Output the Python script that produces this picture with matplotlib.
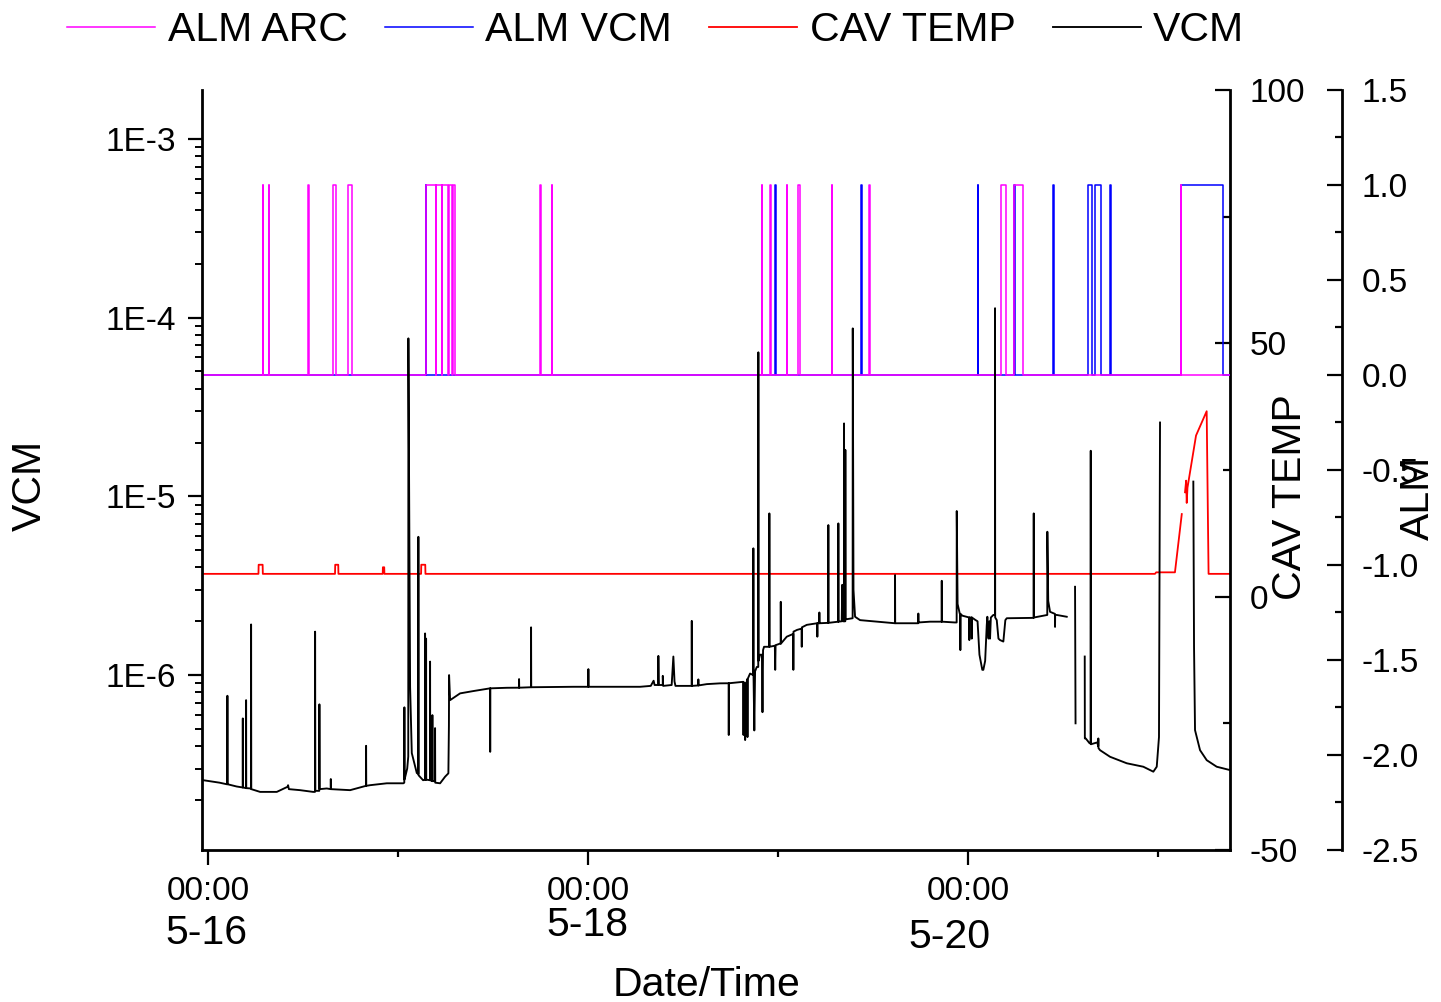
import numpy as np
import matplotlib
matplotlib.use("Agg")
import matplotlib.pyplot as plt
from matplotlib import font_manager
from matplotlib.ticker import LogLocator, FuncFormatter, MultipleLocator, NullFormatter

# the reference uses a narrow face; fall back to regular Liberation Sans at a
# smaller size so the text keeps roughly the same width
installed = {f.name for f in font_manager.fontManager.ttflist}
HAS_NARROW = "Liberation Sans Narrow" in installed
NARROW = "Liberation Sans Narrow" if HAS_NARROW else "Liberation Sans"
BIG = 35 if HAS_NARROW else 29.5
MID = 28 if HAS_NARROW else 24

plt.rcParams["font.family"] = ["Liberation Sans", "DejaVu Sans"]
plt.rcParams["axes.unicode_minus"] = False

# time axis: days since 5-16 00:00
x_range = (-0.032, 5.379)
day_ticks = [0, 2, 4]
day_minor = [1, 3, 5]
time_labels = ["00:00", "00:00", "00:00"]
date_labels = ["5-16", "5-18", "5-20"]

# VCM pressure trace (day, value); None marks a gap in the logged data
vcm_points = [
    (-0.025, 2.58e-7), (0.06, 2.5e-7), (0.098, 2.45e-7),
    (0.1010, 2.45e-7), (0.1016, 7.66e-7), (0.1024, 2.45e-7),
    (0.15, 2.38e-7),
    (0.182, 2.35e-7), (0.1826, 5.72e-7), (0.1834, 2.35e-7),
    (0.1995, 2.33e-7), (0.2, 7.24e-7), (0.2008, 2.33e-7),
    (0.221, 2.32e-7),
    (0.2258, 2.32e-7), (0.2263, 1.92e-6), (0.2272, 2.3e-7),
    (0.2737, 2.22e-7), (0.3616, 2.22e-7),
    (0.418, 2.37e-7), (0.421, 2.42e-7), (0.425, 2.3e-7),
    (0.4842, 2.27e-7), (0.5526, 2.22e-7),
    (0.5626, 2.22e-7), (0.5632, 1.75e-6), (0.5645, 2.25e-7),
    (0.5852, 2.25e-7), (0.5858, 6.86e-7), (0.587, 2.3e-7),
    (0.6247, 2.32e-7),
    (0.6452, 2.3e-7), (0.6458, 2.62e-7), (0.6465, 2.3e-7),
    (0.7474, 2.27e-7),
    (0.831, 2.4e-7), (0.8316, 4.02e-7), (0.8324, 2.4e-7),
    (0.8526, 2.42e-7), (0.9405, 2.48e-7), (1.0279, 2.48e-7),
    (1.0326, 2.5e-7), (1.0332, 6.6e-7), (1.034, 2.6e-7),
    (1.048, 3.0e-7),
    (1.0535, 3.5e-7), (1.0542, 7.66e-5), (1.0632, 8.6e-7), (1.0721, 3.66e-7), (1.0984, 2.83e-7),
    (1.1063, 2.8e-7), (1.1068, 5.94e-6), (1.1078, 2.75e-7),
    (1.1316, 2.58e-7),
    (1.1415, 2.6e-7), (1.1421, 1.71e-6), (1.143, 2.6e-7),
    (1.147, 2.6e-7), (1.1474, 1.6e-6), (1.1482, 2.6e-7),
    (1.168, 2.58e-7), (1.1684, 1.19e-6), (1.1692, 2.58e-7),
    (1.18, 2.55e-7), (1.1805, 5.97e-7), (1.1812, 2.55e-7),
    (1.1942, 2.55e-7), (1.1947, 5.05e-7), (1.1955, 2.5e-7),
    (1.2211, 2.48e-7), (1.2474, 2.7e-7), (1.2647, 2.82e-7),
    (1.2675, 5.2e-7), (1.2684, 1.0e-6), (1.2737, 7.24e-7),
    (1.3263, 7.9e-7), (1.3963, 8.14e-7),
    (1.4842, 8.43e-7), (1.4848, 3.72e-7), (1.4855, 8.43e-7),
    (1.5721, 8.49e-7),
    (1.6363, 8.5e-7), (1.6368, 9.5e-7), (1.6375, 8.5e-7),
    (1.6774, 8.53e-7),
    (1.6995, 8.55e-7), (1.7, 1.85e-6), (1.7008, 8.55e-7),
    (1.9226, 8.6e-7),
    (2.001, 8.6e-7), (2.0016, 1.08e-6), (2.0024, 8.6e-7),
    (2.2737, 8.6e-7),
    (2.33, 8.7e-7), (2.345, 9.3e-7), (2.35, 8.8e-7), (2.368, 8.8e-7), (2.37, 1.28e-6),
    (2.373, 8.8e-7), (2.393, 8.8e-7), (2.3932, 9.9e-7), (2.395, 8.7e-7), (2.44, 8.8e-7),
    (2.4489, 1.27e-6), (2.455, 9.2e-7), (2.46, 8.7e-7), (2.52, 8.7e-7),
    (2.5452, 8.7e-7), (2.5458, 2.01e-6), (2.5466, 8.7e-7),
    (2.58, 8.75e-7), (2.5805, 9.46e-7), (2.5812, 8.75e-7),
    (2.6247, 8.9e-7), (2.6947, 8.99e-7),
    (2.74, 9.0e-7), (2.7405, 4.62e-7), (2.7412, 9.0e-7),
    (2.8174, 9.17e-7), (2.818, 4.62e-7), (2.8186, 9.1e-7),
    (2.8263, 9.0e-7), (2.8268, 4.33e-7), (2.8275, 8.5e-7),
    (2.8384, 9.5e-7), (2.839, 4.5e-7), (2.8398, 9.5e-7),
    (2.8526, 1.02e-6), (2.8695, 1.0e-6), (2.87, 5.12e-6), (2.8708, 1.0e-6),
    (2.875, 4.9e-7), (2.879, 1.05e-6),
    (2.888, 1.11e-6), (2.8958, 1.11e-6), (2.8963, 6.4e-5), (2.8972, 1.2e-6),
    (2.905, 1.3e-6), (2.915, 1.3e-6), (2.918, 6.2e-7), (2.921, 1.38e-6),
    (2.9263, 1.44e-6),
    (2.9537, 1.44e-6), (2.9542, 8.03e-6), (2.955, 1.44e-6),
    (2.983, 1.46e-6), (2.985, 1.07e-6), (2.987, 1.47e-6),
    (3.0105, 1.5e-6),
    (3.0138, 1.5e-6), (3.0142, 2.57e-6), (3.015, 1.5e-6),
    (3.0458, 1.64e-6),
    (3.08, 1.7e-6), (3.0805, 1.07e-6), (3.0812, 1.75e-6),
    (3.1, 1.79e-6),
    (3.124, 1.82e-6), (3.1247, 1.44e-6), (3.1255, 1.85e-6),
    (3.1511, 1.91e-6),
    (3.206, 1.95e-6), (3.2068, 1.64e-6), (3.2075, 1.95e-6),
    (3.217, 1.95e-6), (3.2174, 2.24e-6), (3.218, 1.95e-6),
    (3.264, 1.96e-6), (3.2647, 6.91e-6), (3.2655, 1.96e-6),
    (3.317, 1.99e-6), (3.3174, 7.06e-6), (3.318, 1.99e-6),
    (3.335, 2.0e-6), (3.338, 3.2e-6), (3.341, 2.0e-6),
    (3.347, 2.0e-6), (3.3474, 2.56e-5), (3.348, 2.0e-6),
    (3.3538, 2.0e-6), (3.3542, 1.82e-5), (3.355, 2.05e-6),
    (3.3925, 2.08e-6), (3.3932, 8.71e-5), (3.397, 3.0e-6), (3.4053, 2.12e-6),
    (3.4316, 2.03e-6), (3.5195, 1.99e-6), (3.6068, 1.95e-6),
    (3.6153, 1.95e-6), (3.6158, 3.63e-6), (3.6165, 1.95e-6),
    (3.7121, 1.95e-6),
    (3.738, 1.95e-6), (3.7384, 2.21e-6), (3.739, 1.97e-6),
    (3.8, 1.99e-6),
    (3.861, 1.99e-6), (3.8616, 3.37e-6), (3.8624, 1.99e-6),
    (3.930, 1.97e-6),
    (3.94, 1.97e-6), (3.9405, 8.28e-6), (3.945, 2.5e-6), (3.9563, 2.21e-6),
    (3.959, 2.2e-6), (3.9595, 1.38e-6), (3.9603, 2.2e-6),
    (3.97, 2.15e-6),
    (4.0063, 2.1e-6), (4.0068, 1.57e-6), (4.0075, 2.1e-6),
    (4.019, 2.1e-6), (4.0195, 1.6e-6), (4.02, 2.1e-6),
    (4.04, 2.03e-6), (4.05, 2.0e-6), (4.06, 1.3e-6), (4.075, 1.07e-6), (4.0805, 1.07e-6),
    (4.09, 1.2e-6), (4.0984, 1.9e-6), (4.1016, 2.12e-6),
    (4.108, 1.6e-6), (4.112, 2.0e-6), (4.1158, 1.6e-6), (4.12, 2.1e-6),
    (4.1332, 2.17e-6),
    (4.1416, 2.17e-6), (4.1421, 1.13e-4), (4.1428, 2.1e-6),
    (4.1511, 2.03e-6), (4.16, 1.6e-6), (4.1684, 1.57e-6), (4.1858, 1.54e-6),
    (4.1963, 2.03e-6), (4.2037, 2.08e-6), (4.3263, 2.09e-6),
    (4.345, 2.09e-6), (4.3458, 8.03e-6), (4.3466, 2.1e-6),
    (4.4142, 2.17e-6),
    (4.417, 2.17e-6), (4.4174, 6.34e-6), (4.422, 2.6e-6), (4.4316, 2.26e-6),
    (4.4575, 2.2e-6), (4.4579, 1.86e-6), (4.4585, 2.17e-6),
    (4.4668, 2.17e-6), (4.5195, 2.12e-6),
    None,
    (4.5632, 3.12e-6), (4.5658, 5.37e-7),
    None,
    (4.6142, 1.27e-6), (4.6148, 4.42e-7), (4.6195, 4.42e-7), (4.64, 4.15e-7),
    (4.6452, 4.15e-7), (4.6458, 1.8e-5), (4.6466, 4.1e-7),
    (4.68, 4.2e-7),
    (4.6852, 4.0e-7), (4.6858, 4.42e-7), (4.6866, 3.9e-7),
    (4.6947, 3.8e-7), (4.7474, 3.49e-7), (4.8353, 3.21e-7), (4.9226, 3.07e-7),
    (4.9753, 2.88e-7), (4.9932, 3.07e-7), (5.005, 4.5e-7), (5.0105, 2.59e-5),
    None,
    (5.1858, 1.21e-5), (5.1895, 1.44e-6), (5.1947, 4.92e-7), (5.2211, 3.8e-7),
    (5.2563, 3.34e-7), (5.3089, 3.07e-7), (5.3789, 2.94e-7),
]

# cavity temperature (day, deg)
cav_points = [
    (-0.026, 4.5),
    (0.265, 4.5), (0.266, 6.3), (0.287, 6.3), (0.288, 4.5),
    (0.668, 4.5), (0.669, 6.3), (0.685, 6.3), (0.686, 4.5),
    (0.919, 4.5), (0.920, 5.8), (0.927, 5.8), (0.928, 4.5),
    (1.121, 4.5), (1.122, 6.3), (1.143, 6.3), (1.144, 4.5),
    (4.984, 4.5), (4.99, 4.8), (5.089, 4.8), (5.125, 16.3),
    None,
    (5.142, 20.6), (5.148, 22.9), (5.151, 18.5), (5.155, 21.5),
    (5.2, 31.8), (5.256, 36.6), (5.266, 4.5), (5.379, 4.5),
]

# alarm on-intervals (start day, end day)
alm_arc_on = [
    (0.288, 0.291), (0.319, 0.322), (0.527, 0.530), (0.658, 0.673), (0.737, 0.755),
    (1.146, 1.198), (1.201, 1.230), (1.233, 1.263), (1.266, 1.286), (1.289, 1.300),
    (1.746, 1.750), (1.809, 1.812),
    (2.915, 2.918), (2.960, 2.963), (3.045, 3.048), (3.104, 3.116), (3.282, 3.285),
    (3.480, 3.484), (4.176, 4.198), (4.242, 4.288), (5.120, 5.123),
]
alm_vcm_on = [
    (1.146, 1.149), (2.986, 2.989), (3.437, 3.444), (4.050, 4.053), (4.242, 4.245),
    (4.448, 4.451), (4.632, 4.654), (4.668, 4.700), (4.749, 4.752), (5.121, 5.342),
]


def unpack(points):
    xs = [np.nan if p is None else p[0] for p in points]
    ys = [np.nan if p is None else p[1] for p in points]
    return np.array(xs), np.array(ys)


def steps(intervals, start, end):
    xs, ys = [start], [0]
    for a, b in intervals:
        xs += [a, a, b, b]
        ys += [0, 1, 1, 0]
    xs.append(end)
    ys.append(0)
    return xs, ys


fig = plt.figure(figsize=(14.41, 10.02), dpi=100)
ax = fig.add_axes([0.1402, 0.1517, 0.7134, 0.7585])
ax_cav = ax.twinx()
ax_alm = ax.twinx()

# keep the VCM trace on top of the other two axes
ax.set_zorder(3)
ax.patch.set_visible(False)

vx, vy = unpack(vcm_points)
ax.plot(vx, vy, color="black", lw=1.35, label="VCM")
ax.set_yscale("log")
ax.set_ylim(1.05e-7, 1.88e-3)
ax.set_xlim(*x_range)

cx, cy = unpack(cav_points)
ax_cav.plot(cx, cy, color="#FF0000", lw=1.3, label="CAV TEMP")
ax_cav.set_ylim(-50, 100)

bx, by = steps(alm_vcm_on, -0.026, x_range[1])
mx, my = steps(alm_arc_on, -0.026, x_range[1])
ax_alm.plot(bx, by, color="#0000FF", lw=1.1, label="ALM VCM")
ax_alm.plot(mx, my, color="#FF00FF", lw=1.1, label="ALM ARC")
ax_alm.set_ylim(-2.5, 1.5)
ax_alm.spines["right"].set_position(("axes", 1.109))

# spines
for a in (ax, ax_cav, ax_alm):
    a.spines["top"].set_visible(False)
ax.spines["right"].set_visible(False)
for a in (ax_cav, ax_alm):
    a.spines["left"].set_visible(False)
    a.spines["bottom"].set_visible(False)
    a.spines["right"].set_linewidth(2.0)
ax.spines["left"].set_linewidth(2.0)
ax.spines["bottom"].set_linewidth(2.0)

# left log axis
ax.yaxis.set_major_locator(LogLocator(base=10))
ax.yaxis.set_minor_locator(LogLocator(base=10, subs=range(2, 10)))
ax.yaxis.set_major_formatter(FuncFormatter(lambda v, p: f"1E{int(round(np.log10(v)))}"))
ax.yaxis.set_minor_formatter(NullFormatter())
ax.tick_params(axis="y", which="major", direction="out", length=10, width=1.6,
               pad=9, labelsize=24)
ax.tick_params(axis="y", which="minor", direction="out", length=5, width=1.4)

# bottom time axis
ax.set_xticks(day_ticks)
ax.set_xticklabels(time_labels, fontfamily=NARROW, fontsize=MID)
ax.set_xticks(day_minor, minor=True)
ax.tick_params(axis="x", which="major", direction="out", length=10.5, width=1.6, pad=8)
ax.tick_params(axis="x", which="minor", direction="out", length=5, width=1.6)
date_offsets = [(-2, -83), (-1, -75), (-19, -87)]
for d, lab, off in zip(day_ticks, date_labels, date_offsets):
    ax.annotate(lab, xy=(d, 0), xycoords=("data", "axes fraction"), xytext=off,
                textcoords="offset pixels", ha="center", va="center",
                fontfamily=NARROW, fontsize=BIG, annotation_clip=False)

# right axes
ax_cav.yaxis.set_major_locator(MultipleLocator(50))
ax_cav.yaxis.set_minor_locator(MultipleLocator(25))
ax_cav.tick_params(axis="y", which="major", direction="in", length=11, width=1.6,
                   pad=14, labelsize=24)
ax_cav.tick_params(axis="y", which="minor", direction="in", length=5, width=1.6)

ax_alm.yaxis.set_major_locator(MultipleLocator(0.5))
ax_alm.yaxis.set_minor_locator(MultipleLocator(0.25))
ax_alm.yaxis.set_major_formatter(FuncFormatter(lambda v, p: f"{v:.1f}"))
ax_alm.tick_params(axis="y", which="major", direction="in", length=11, width=1.6,
                   pad=14, labelsize=24)
ax_alm.tick_params(axis="y", which="minor", direction="in", length=5, width=1.6)

# axis titles
fig.text(0.0208, 0.516, "VCM", rotation=90, ha="center", va="center",
         fontfamily=NARROW, fontsize=BIG)
fig.text(0.8952, 0.504, "CAV TEMP", rotation=90, ha="center", va="center",
         fontfamily=NARROW, fontsize=BIG)
fig.text(0.984, 0.503, "ALM", rotation=90, ha="center", va="center",
         fontfamily=NARROW, fontsize=BIG)
fig.text(0.4906, 0.017, "Date/Time", ha="center", va="center",
         fontfamily=NARROW, fontsize=BIG)

# legend across the top
handles = [ax_alm.lines[1], ax_alm.lines[0], ax_cav.lines[0], ax.lines[0]]
fig.legend(handles, [h.get_label() for h in handles], loc="center left",
           bbox_to_anchor=(0.0465, 0.970), ncol=4, frameon=False,
           prop={"family": NARROW, "size": BIG}, handlelength=2.15,
           handletextpad=0.31, columnspacing=0.9, borderpad=0, borderaxespad=0)

fig.savefig("out.png", dpi=100)
